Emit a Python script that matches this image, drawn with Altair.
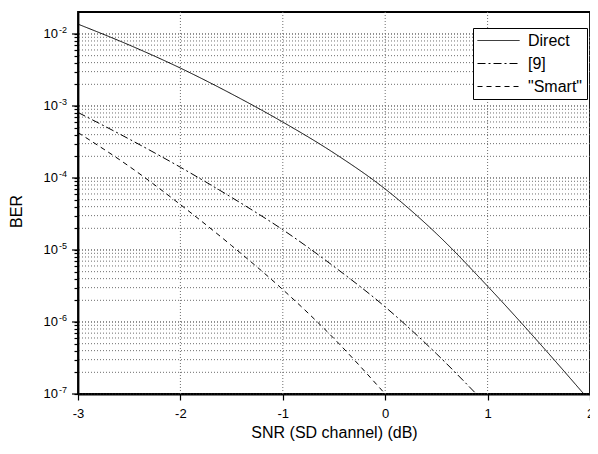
import altair as alt
import pandas as pd

# ---- data ----
series_names = ["Direct", "[9]", '"Smart"']

x_direct = [-3.0, -2.5, -2.0, -1.5, -1.0, -0.5, 0.0, 0.5, 1.0, 1.5, 1.94]
ber_direct = [1.37e-2, 7.03e-3, 3.36e-3, 1.47e-3, 5.98e-4, 2.22e-4, 7.03e-5, 1.69e-5, 3.14e-6, 5.2e-7, 1.0e-7]

x_ref9 = [-3.0, -2.5, -2.0, -1.5, -1.0, -0.5, 0.0, 0.5, 0.89]
ber_ref9 = [8.13e-4, 3.47e-4, 1.41e-4, 5.37e-5, 1.91e-5, 5.89e-6, 1.62e-6, 3.63e-7, 1.0e-7]

x_smart = [-3.0, -2.5, -2.0, -1.5, -1.0, -0.5, 0.0]
ber_smart = [4.27e-4, 1.45e-4, 4.27e-5, 1.15e-5, 2.82e-6, 5.89e-7, 1.0e-7]

x_ticks = [-3, -2, -1, 0, 1, 2]
x_grid = [-2, -1, 0, 1]
y_major = [1e-2, 1e-3, 1e-4, 1e-5, 1e-6, 1e-7]
y_major_base = ["10", "10", "10", "10", "10", "10"]
y_major_exp = ["-2", "-3", "-4", "-5", "-6", "-7"]
y_minor = [m * 10.0 ** k for k in range(-7, -2) for m in range(2, 10)]

dash_styles = [[1, 0], [8, 3, 2, 3], [5, 4]]

rows = []
for name, xs, ys in [("Direct", x_direct, ber_direct),
                     ("[9]", x_ref9, ber_ref9),
                     ('"Smart"', x_smart, ber_smart)]:
    for i, (a, b) in enumerate(zip(xs, ys)):
        rows.append({"snr": a, "ber": b, "series": name, "order": i})
df = pd.DataFrame(rows)

major_df = pd.DataFrame({"v": y_major, "base": y_major_base, "exp": y_major_exp})
minor_df = pd.DataFrame({"v": y_minor})
xgrid_df = pd.DataFrame({"g": x_grid})

W, H = 512, 382
FONT = "Liberation Sans"

x_scale = alt.Scale(domain=[-3, 2], nice=False, zero=False)
y_scale = alt.Scale(type="log", domain=[1e-7, 2.02e-2], nice=False)

x_axis = alt.Axis(
    values=x_ticks,
    labelExpr="'' + datum.value",
    title="SNR (SD channel) (dB)",
    grid=False,
    tickSize=6,
    labelFontSize=13,
    titleFontSize=16,
    labelPadding=7,
    titlePadding=4,
    labelFlush=False,
)
y_axis = alt.Axis(
    values=y_minor + y_major,
    labels=False,
    grid=False,
    tickSize=4,
    title="BER",
    titleFontSize=16,
    titleX=-62,
    titleY=199,
    titleAngle=-90,
    titleAlign="center",
    titleBaseline="middle",
)

minor_grid = alt.Chart(minor_df).mark_rule(
    color="#6e6e6e", strokeWidth=1, strokeDash=[1, 2]
).encode(y=alt.Y("v:Q", scale=y_scale, axis=y_axis, title="BER"))

major_grid = alt.Chart(major_df).mark_rule(
    color="#222222", strokeWidth=1, strokeDash=[1, 2]
).encode(y=alt.Y("v:Q", scale=y_scale, axis=y_axis, title="BER"))

x_gridlines = alt.Chart(xgrid_df).mark_rule(
    color="#6e6e6e", strokeWidth=1, strokeDash=[1, 2]
).encode(x=alt.X("g:Q", scale=x_scale, axis=x_axis, title="SNR (SD channel) (dB)"))

major_ticks = alt.Chart(major_df).mark_rule(color="black", strokeWidth=1.2).encode(
    y=alt.Y("v:Q", scale=y_scale, axis=y_axis, title="BER"),
    x=alt.value(-6),
    x2=alt.value(0),
)

lines = alt.Chart(df).mark_line(
    color="black", strokeWidth=1, interpolate="monotone"
).encode(
    x=alt.X("snr:Q", scale=x_scale, axis=x_axis, title="SNR (SD channel) (dB)"),
    y=alt.Y("ber:Q", scale=y_scale, axis=y_axis, title="BER"),
    strokeDash=alt.StrokeDash(
        "series:N",
        scale=alt.Scale(domain=series_names, range=dash_styles),
        legend=alt.Legend(
            title=None,
            orient="none",
            legendX=395,
            legendY=16,
            symbolType="stroke",
            symbolSize=1764,
            symbolStrokeWidth=1,
            symbolStrokeColor="black",
            clipHeight=17,
            labelFontSize=16,
            labelFont=FONT,
            labelColor="black",
            labelOffset=8,
            fillColor="white",
            strokeColor="black",
            padding=4,
            rowPadding=6,
        ),
    ),
    order="order:Q",
)

label_base = alt.Chart(major_df).mark_text(
    align="right", baseline="middle", fontSize=13, font=FONT, color="black"
).encode(
    y=alt.Y("v:Q", scale=y_scale, axis=y_axis, title="BER"),
    x=alt.value(-20),
    text="base:N",
)

label_exp = alt.Chart(major_df).mark_text(
    align="left", baseline="middle", fontSize=9, font=FONT, color="black", dy=-4
).encode(
    y=alt.Y("v:Q", scale=y_scale, axis=y_axis, title="BER"),
    x=alt.value(-19),
    text="exp:N",
)

chart = alt.layer(
    minor_grid, major_grid, x_gridlines, major_ticks, lines, label_base, label_exp
).properties(
    width=W,
    height=H,
    padding={"left": 70, "top": 4, "right": 0, "bottom": 56},
    autosize="none",
).configure_view(
    stroke="black", strokeWidth=1.8
).configure_axis(
    domainColor="black",
    domainWidth=1.8,
    tickColor="black",
    tickWidth=1.2,
    labelColor="black",
    titleColor="black",
    labelFont=FONT,
    titleFont=FONT,
    titleFontWeight="normal",
)

chart.save("out.html", embed_options={"renderer": "svg", "actions": False})
